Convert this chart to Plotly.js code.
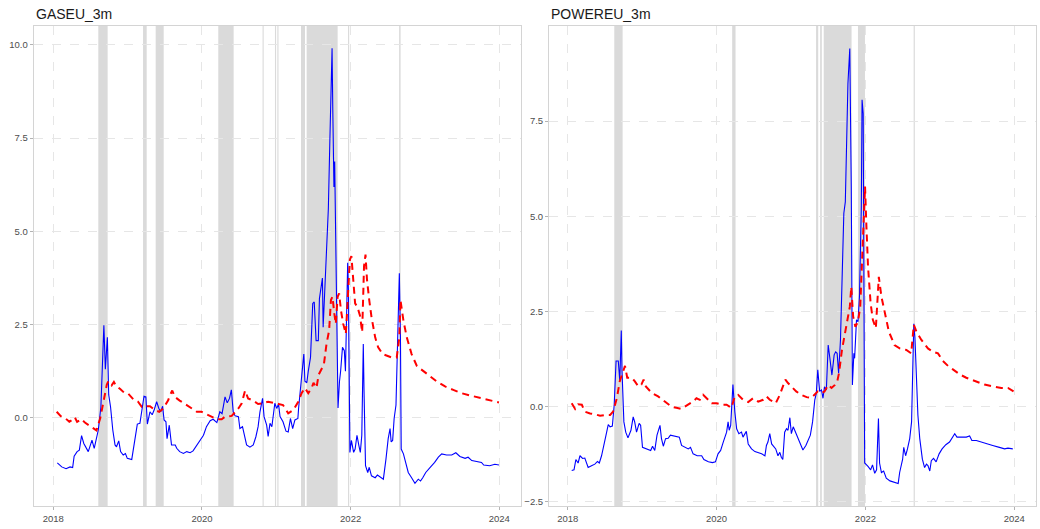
<!DOCTYPE html>
<html>
<head>
<meta charset="utf-8">
<script src="https://cdn.plot.ly/plotly-3.0.1.min.js"></script>
<style>
  html, body { margin: 0; padding: 0; background: #ffffff; }
  #chart { width: 1040px; height: 529px; }
</style>
</head>
<body>
<div id="chart"></div>
<script>
// Panel titles and axis ticks
const panelTitles = ['GASEU_3m', 'POWEREU_3m'];
const xTickVals = [2018, 2020, 2022, 2024];
const xTickText = ['2018', '2020', '2022', '2024'];
const gasYTicks = [0, 2.5, 5, 7.5, 10];
const powerYTicks = [-2.5, 0, 2.5, 5, 7.5];

// GASEU_3m: solid series (time in decimal years)
const gasSolidT = [2018.054, 2018.113, 2018.171, 2018.225, 2018.26, 2018.28, 2018.32, 2018.35, 2018.38, 2018.41,
  2018.47, 2018.52, 2018.55, 2018.57, 2018.605, 2018.64, 2018.66, 2018.68, 2018.70, 2018.727,
  2018.745, 2018.77, 2018.80, 2018.83, 2018.85, 2018.88, 2018.905, 2018.94, 2018.97, 2018.995,
  2019.055, 2019.10, 2019.13, 2019.165, 2019.19, 2019.22, 2019.245, 2019.265, 2019.30, 2019.33,
  2019.355, 2019.39, 2019.42, 2019.445, 2019.47, 2019.49, 2019.515, 2019.53, 2019.56, 2019.59,
  2019.64, 2019.66, 2019.70, 2019.75, 2019.795, 2019.84, 2019.88, 2019.93, 2019.97, 2020.02,
  2020.06, 2020.11, 2020.15, 2020.20, 2020.24, 2020.27, 2020.31, 2020.34, 2020.37, 2020.395,
  2020.42, 2020.445, 2020.49, 2020.51, 2020.545, 2020.58, 2020.60, 2020.645, 2020.69, 2020.725,
  2020.755, 2020.78, 2020.815, 2020.835, 2020.87, 2020.89, 2020.915, 2020.94, 2020.96, 2020.98,
  2021.005, 2021.03, 2021.05, 2021.09, 2021.13, 2021.16, 2021.19, 2021.22, 2021.25, 2021.29,
  2021.30, 2021.325, 2021.35, 2021.37, 2021.385, 2021.41, 2021.43, 2021.46, 2021.49, 2021.51,
  2021.535, 2021.565, 2021.58, 2021.60, 2021.62, 2021.63, 2021.655, 2021.68, 2021.70, 2021.72,
  2021.735, 2021.75, 2021.76, 2021.775, 2021.785, 2021.79, 2021.81, 2021.83, 2021.85, 2021.865,
  2021.89, 2021.915, 2021.93, 2021.945, 2021.96, 2021.97, 2021.99, 2022.01, 2022.04, 2022.06,
  2022.085, 2022.11, 2022.13, 2022.15, 2022.17, 2022.18, 2022.20, 2022.23, 2022.25, 2022.28,
  2022.33, 2022.36, 2022.39, 2022.44, 2022.475, 2022.505, 2022.53, 2022.545, 2022.565, 2022.585,
  2022.61, 2022.63, 2022.645, 2022.655, 2022.67, 2022.68, 2022.71, 2022.745, 2022.775, 2022.82,
  2022.865, 2022.91, 2022.94, 2022.97, 2023.01, 2023.07, 2023.13, 2023.18, 2023.225, 2023.29,
  2023.36, 2023.415, 2023.47, 2023.54, 2023.58, 2023.63, 2023.69, 2023.76, 2023.79, 2023.87,
  2023.94, 2023.995];
const gasSolidV = [-1.22, -1.33, -1.38, -1.33, -1.35, -1.04, -0.92, -0.88, -0.49, -0.70,
  -0.92, -0.61, -0.83, -0.66, -0.34, 0.28, 1.36, 2.47, 1.29, 2.15,
  0.61, 0.28, -0.34, -0.74, -0.79, -0.63, -0.92, -1.01, -0.97, -1.10,
  -1.13, -0.52, -0.18, -0.16, 0.19, 0.57, 0.55, -0.18, 0.15, 0.07,
  0.19, 0.42, 0.24, 0.15, 0.30, -0.07, -0.12, -0.57, -0.21, -0.74,
  -0.74, -0.83, -0.92, -0.97, -0.92, -0.95, -0.90, -0.74, -0.61, -0.48,
  -0.25, -0.09, -0.05, -0.14, 0.15, 0.10, 0.55, 0.39, 0.51, 0.74,
  0.15, 0.04, 0.02, -0.30, -0.25, -0.52, -0.74, -0.80, -0.74, -0.52,
  -0.25, 0.15, 0.51, 0.02, -0.21, -0.51, -0.16, -0.25, 0.10, 0.38,
  0.24, 0.36, 0.02, -0.12, -0.37, -0.39, -0.03, -0.30, -0.07, -0.03,
  0.25, 0.79, 1.15, 1.70, 0.97, 0.93, 1.24, 1.61, 3.06, 3.10,
  2.06, 2.06, 3.19, 3.47, 3.74, 2.42, 3.51, 4.42, 5.60, 7.41,
  9.14, 9.91, 8.23, 6.19, 6.87, 6.19, 3.06, 0.25, 0.97, 1.24,
  1.88, 1.79, 1.24, 3.06, 4.15, 3.42, -0.94, -0.62, -0.94, -0.85,
  -0.48, -0.75, -0.94, -0.48, 1.97, 0.70, -1.30, -1.48, -1.34, -1.57,
  -1.62, -1.55, -1.59, -1.66, -1.12, -0.57, -0.30, -0.66, -0.62, -0.03,
  0.33, 1.70, 2.74, 3.87, 2.15, -0.85, -0.98, -1.25, -1.48, -1.62,
  -1.77, -1.66, -1.71, -1.62, -1.48, -1.34, -1.21, -1.07, -0.98, -1.01,
  -1.01, -0.95, -1.05, -1.10, -1.07, -1.16, -1.19, -1.21, -1.28, -1.30,
  -1.26, -1.28];

// GASEU_3m: dashed series
const gasDashT = [2018.045, 2018.10, 2018.16, 2018.215, 2018.27, 2018.29, 2018.32, 2018.38, 2018.425, 2018.49,
  2018.56, 2018.58, 2018.63, 2018.67, 2018.72, 2018.74, 2018.785, 2018.815, 2018.84, 2018.90,
  2018.96, 2019.01, 2019.075, 2019.14, 2019.19, 2019.245, 2019.30, 2019.37, 2019.425, 2019.48,
  2019.545, 2019.57, 2019.60, 2019.635, 2019.70, 2019.795, 2019.86, 2019.93, 2019.995, 2020.06,
  2020.13, 2020.20, 2020.265, 2020.31, 2020.40, 2020.42, 2020.49, 2020.535, 2020.58, 2020.62,
  2020.69, 2020.755, 2020.825, 2020.89, 2020.96, 2021.03, 2021.09, 2021.16, 2021.23, 2021.295,
  2021.34, 2021.385, 2021.43, 2021.475, 2021.50, 2021.54, 2021.57, 2021.61, 2021.64, 2021.675,
  2021.71, 2021.735, 2021.755, 2021.78, 2021.80, 2021.825, 2021.845, 2021.87, 2021.90, 2021.935,
  2021.97, 2021.99, 2022.01, 2022.04, 2022.06, 2022.09, 2022.125, 2022.155, 2022.17, 2022.18,
  2022.20, 2022.22, 2022.25, 2022.28, 2022.33, 2022.37, 2022.43, 2022.485, 2022.55, 2022.62,
  2022.655, 2022.67, 2022.71, 2022.755, 2022.82, 2022.89, 2022.975, 2023.065, 2023.155, 2023.27,
  2023.38, 2023.49, 2023.605, 2023.74, 2023.87, 2023.995];
const gasDashV = [0.15, 0.03, -0.02, -0.12, -0.05, 0.00, -0.12, -0.05, -0.14, -0.23,
  -0.32, -0.35, -0.03, 0.42, 0.88, 0.97, 0.86, 0.95, 0.86, 0.76,
  0.65, 0.63, 0.49, 0.42, 0.28, 0.30, 0.30, 0.19, 0.15, 0.24,
  0.46, 0.60, 0.72, 0.55, 0.45, 0.33, 0.24, 0.15, 0.15, 0.08,
  0.02, -0.05, -0.05, 0.02, 0.04, 0.08, 0.24, 0.38, 0.72, 0.51,
  0.45, 0.36, 0.38, 0.42, 0.38, 0.36, 0.33, 0.11, 0.20, 0.42,
  0.65, 0.79, 0.65, 0.79, 0.93, 0.79, 1.15, 1.29, 1.42, 1.97,
  2.33, 3.15, 3.24, 2.79, 2.51, 3.24, 3.33, 2.87, 2.51, 2.24,
  3.42, 4.24, 4.33, 3.60, 3.06, 2.97, 2.74, 2.29, 3.15, 4.06,
  4.37, 3.69, 3.15, 2.70, 2.15, 1.88, 1.70, 1.65, 1.61, 1.61,
  2.15, 3.15, 2.60, 2.15, 1.70, 1.38, 1.24, 1.11, 0.97, 0.83,
  0.74, 0.65, 0.59, 0.53, 0.47, 0.40];

// POWEREU_3m: solid series
const powerSolidT = [2018.054, 2018.085, 2018.11, 2018.14, 2018.165, 2018.20, 2018.23, 2018.275, 2018.32, 2018.365,
  2018.40, 2018.425, 2018.455, 2018.49, 2018.515, 2018.545, 2018.57, 2018.60, 2018.625, 2018.65,
  2018.68, 2018.70, 2018.72, 2018.73, 2018.755, 2018.78, 2018.81, 2018.85, 2018.88, 2018.90,
  2018.925, 2018.96, 2018.98, 2019.005, 2019.06, 2019.115, 2019.14, 2019.17, 2019.20, 2019.24,
  2019.26, 2019.285, 2019.315, 2019.35, 2019.38, 2019.44, 2019.50, 2019.53, 2019.575, 2019.62,
  2019.65, 2019.685, 2019.74, 2019.80, 2019.83, 2019.89, 2019.945, 2019.985, 2020.02, 2020.055,
  2020.09, 2020.135, 2020.155, 2020.17, 2020.19, 2020.205, 2020.22, 2020.245, 2020.27, 2020.30,
  2020.335, 2020.355, 2020.40, 2020.425, 2020.47, 2020.515, 2020.56, 2020.605, 2020.65, 2020.67,
  2020.69, 2020.715, 2020.74, 2020.76, 2020.795, 2020.825, 2020.85, 2020.87, 2020.89, 2020.915,
  2020.94, 2020.96, 2020.985, 2021.005, 2021.03, 2021.05, 2021.075, 2021.12, 2021.16, 2021.20,
  2021.23, 2021.26, 2021.29, 2021.32, 2021.34, 2021.36, 2021.385, 2021.41, 2021.43, 2021.45,
  2021.475, 2021.50, 2021.52, 2021.55, 2021.58, 2021.60, 2021.62, 2021.64, 2021.665, 2021.685,
  2021.71, 2021.73, 2021.75, 2021.765, 2021.79, 2021.81, 2021.825, 2021.845, 2021.855, 2021.88,
  2021.90, 2021.92, 2021.945, 2021.955, 2021.97, 2021.985, 2021.99, 2022.035, 2022.07, 2022.095,
  2022.125, 2022.15, 2022.175, 2022.19, 2022.215, 2022.245, 2022.28, 2022.33, 2022.395, 2022.44,
  2022.46, 2022.50, 2022.515, 2022.54, 2022.565, 2022.595, 2022.62, 2022.63, 2022.65, 2022.665,
  2022.685, 2022.705, 2022.73, 2022.765, 2022.795, 2022.82, 2022.84, 2022.865, 2022.885, 2022.915,
  2022.95, 2022.99, 2023.03, 2023.08, 2023.13, 2023.17, 2023.20, 2023.23, 2023.29, 2023.355,
  2023.40, 2023.43, 2023.49, 2023.555, 2023.62, 2023.71, 2023.80, 2023.87, 2023.915, 2023.98];
const powerSolidV = [-1.68, -1.66, -1.39, -1.48, -1.29, -1.36, -1.35, -1.60, -1.55, -1.51,
  -1.44, -1.48, -1.29, -1.02, -0.75, -0.47, -0.53, -0.51, 0.05, 1.20,
  1.20, 0.67, 2.00, 0.93, -0.40, -0.67, -0.82, -0.62, -0.27, -0.40,
  -0.67, -0.44, -0.49, -1.07, -1.11, -1.15, -1.04, -1.15, -0.75, -0.49,
  -0.84, -1.04, -0.84, -0.83, -0.75, -0.77, -0.80, -1.02, -1.07, -1.11,
  -1.07, -1.24, -1.29, -1.29, -1.39, -1.45, -1.47, -1.45, -1.24, -1.15,
  -0.93, -0.67, -0.40, -0.62, -0.49, 0.22, 0.58, -0.13, -0.58, -0.71,
  -0.67, -0.80, -0.65, -0.98, -1.11, -1.18, -1.20, -1.24, -1.29, -1.02,
  -0.93, -0.71, -0.98, -1.02, -1.11, -1.29, -1.20, -1.33, -1.39, -0.67,
  -0.58, -0.62, -0.29, -0.71, -0.53, -0.62, -0.75, -0.93, -1.14, -1.02,
  -0.89, -0.75, -0.40, 0.18, 0.35, 0.97, 0.40, 0.44, 0.22, 0.52,
  0.44, 1.62, 1.31, 0.83, 1.36, 1.44, 1.40, 0.88, 1.76, 3.50,
  5.08, 5.38, 7.53, 8.49, 9.41, 5.78, 0.57, 1.40, 1.27, 2.28,
  2.23, 2.89, 5.25, 8.06, 7.70, 1.58, -1.48, -1.57, -1.66, -1.53,
  -1.75, -1.66, -0.31, -1.48, -1.73, -1.69, -1.88, -1.95, -1.98, -2.02,
  -1.73, -1.38, -1.07, -1.29, -1.11, -0.84, -0.40, 0.49, 2.18, 1.82,
  0.67, -0.22, -0.84, -1.38, -1.60, -1.51, -1.55, -1.69, -1.42, -1.36,
  -1.45, -1.24, -1.11, -1.00, -0.93, -0.80, -0.71, -0.80, -0.80, -0.80,
  -0.77, -0.89, -0.89, -0.93, -0.98, -1.02, -1.07, -1.11, -1.09, -1.11];

// POWEREU_3m: dashed series
const powerDashT = [2018.054, 2018.10, 2018.14, 2018.19, 2018.23, 2018.30, 2018.365, 2018.435, 2018.50, 2018.57,
  2018.61, 2018.66, 2018.70, 2018.745, 2018.77, 2018.80, 2018.86, 2018.90, 2018.95, 2018.99,
  2019.02, 2019.05, 2019.13, 2019.215, 2019.305, 2019.395, 2019.46, 2019.53, 2019.575, 2019.62,
  2019.68, 2019.73, 2019.775, 2019.82, 2019.865, 2019.935, 2020.0, 2020.07, 2020.135, 2020.20,
  2020.245, 2020.29, 2020.355, 2020.425, 2020.49, 2020.56, 2020.625, 2020.67, 2020.715, 2020.795,
  2020.85, 2020.895, 2020.925, 2020.96, 2021.005, 2021.07, 2021.14, 2021.21, 2021.275, 2021.32,
  2021.36, 2021.41, 2021.45, 2021.50, 2021.545, 2021.59, 2021.62, 2021.645, 2021.665, 2021.685,
  2021.71, 2021.745, 2021.765, 2021.79, 2021.81, 2021.835, 2021.865, 2021.90, 2021.93, 2021.955,
  2021.975, 2021.995, 2022.01, 2022.035, 2022.07, 2022.10, 2022.14, 2022.16, 2022.18, 2022.215,
  2022.26, 2022.315, 2022.39, 2022.46, 2022.55, 2022.615, 2022.65, 2022.685, 2022.75, 2022.84,
  2022.91, 2022.975, 2023.04, 2023.11, 2023.175, 2023.265, 2023.355, 2023.465, 2023.60, 2023.71,
  2023.825, 2023.915, 2023.99];
const powerDashV = [0.09, -0.06, 0.06, 0.05, -0.13, -0.18, -0.20, -0.24, -0.22, -0.22,
  -0.13, 0.22, 0.67, 0.93, 1.07, 0.76, 0.76, 0.67, 0.53, 0.58,
  0.71, 0.53, 0.36, 0.27, 0.13, 0.00, -0.03, -0.06, 0.00, 0.05,
  0.13, 0.22, 0.18, 0.31, 0.22, 0.09, 0.09, 0.05, 0.05, -0.03,
  0.27, 0.31, 0.18, 0.12, 0.22, 0.13, 0.18, 0.27, 0.18, 0.09,
  0.31, 0.58, 0.71, 0.62, 0.53, 0.40, 0.31, 0.25, 0.23, 0.31,
  0.40, 0.35, 0.40, 0.57, 0.49, 0.57, 0.65, 0.88, 1.22, 1.49,
  1.76, 2.19, 2.37, 2.62, 3.15, 2.37, 2.10, 2.23, 2.62, 4.03,
  4.73, 5.78, 4.91, 3.68, 2.71, 2.28, 2.06, 2.89, 3.41, 2.89,
  2.46, 1.97, 1.62, 1.53, 1.49, 1.40, 2.15, 1.97, 1.76, 1.53,
  1.44, 1.40, 1.20, 1.07, 0.98, 0.85, 0.76, 0.67, 0.58, 0.53,
  0.49, 0.49, 0.40];

// Shaded periods (start, end) in decimal years
const gasShadeStart = [2018.605, 2019.207, 2019.377, 2020.219, 2020.815, 2020.982, 2021.014, 2021.332, 2021.408, 2021.965, 2022.652];
const gasShadeEnd   = [2018.731, 2019.256, 2019.485, 2020.426, 2020.830, 2020.997, 2021.029, 2021.386, 2021.825, 2021.980, 2022.672];
const powerShadeStart = [2018.626, 2020.210, 2021.337, 2021.392, 2021.440, 2021.900, 2022.648];
const powerShadeEnd   = [2018.738, 2020.255, 2021.366, 2021.414, 2021.814, 2021.994, 2022.664];

const FONT = 'Liberation Sans, Arial, Helvetica, sans-serif';
const W = 1040, H = 529;

function shadeShapes(starts, ends, xref, yref) {
  return starts.map((s, i) => ({
    type: 'rect', xref: xref, yref: yref + ' domain',
    x0: s, x1: ends[i], y0: 0, y1: 1,
    fillcolor: '#dadada', line: { width: 0 }, layer: 'below'
  }));
}

function solid(x, y, xa, ya) {
  return { x: x, y: y, xaxis: xa, yaxis: ya, type: 'scatter', mode: 'lines',
    line: { color: '#0000ff', width: 1.1 }, hoverinfo: 'skip', showlegend: false };
}
function dashed(x, y, xa, ya) {
  return { x: x, y: y, xaxis: xa, yaxis: ya, type: 'scatter', mode: 'lines',
    line: { color: '#ff0000', width: 2, dash: '7px,5px' }, hoverinfo: 'skip', showlegend: false };
}

const traces = [
  solid(gasSolidT, gasSolidV, 'x', 'y'),
  dashed(gasDashT, gasDashV, 'x', 'y'),
  solid(powerSolidT, powerSolidV, 'x2', 'y2'),
  dashed(powerDashT, powerDashV, 'x2', 'y2')
];

const gridCol = '#e6e6e6';
const borderCol = '#d4d4d4';
function xAxis(domain, range, anchor) {
  return {
    domain: domain, range: range, anchor: anchor, type: 'linear',
    tickvals: xTickVals, ticktext: xTickText,
    ticks: 'outside', ticklen: 3, tickcolor: '#b3b3b3', tickwidth: 1,
    tickfont: { family: FONT, size: 9.5, color: '#4d4d4d' },
    showgrid: true, gridcolor: gridCol, griddash: 'dash', gridwidth: 1,
    zeroline: false, showline: true, mirror: true, linecolor: borderCol, linewidth: 1.3
  };
}
function yAxis(domain, range, anchor, ticks) {
  return {
    domain: domain, range: range, anchor: anchor,
    tickvals: ticks, tickformat: '.1f',
    ticks: 'outside', ticklen: 3, tickcolor: '#b3b3b3', tickwidth: 1,
    tickfont: { family: FONT, size: 9.5, color: '#4d4d4d' },
    showgrid: true, gridcolor: gridCol, griddash: 'dash', gridwidth: 1,
    zeroline: false, showline: true, mirror: true, linecolor: borderCol, linewidth: 1.3
  };
}

const yDom = [(H - 506) / H, (H - 26) / H];
const layout = {
  width: W, height: H,
  margin: { l: 0, r: 0, t: 0, b: 0 },
  paper_bgcolor: '#ffffff', plot_bgcolor: '#ffffff',
  xaxis: xAxis([34 / W, 520.5 / W], [2017.74, 2024.285], 'y'),
  yaxis: yAxis(yDom, [-2.38, 10.51], 'x', gasYTicks),
  xaxis2: xAxis([549.3 / W, 1035.5 / W], [2017.753, 2024.285], 'y2'),
  yaxis2: yAxis(yDom, [-2.61, 10.0], 'x2', powerYTicks),
  shapes: shadeShapes(gasShadeStart, gasShadeEnd, 'x', 'y')
    .concat(shadeShapes(powerShadeStart, powerShadeEnd, 'x2', 'y2')),
  annotations: [
    { text: panelTitles[0], xref: 'paper', yref: 'paper', x: 34 / W, y: 1 - 4 / H,
      xanchor: 'left', yanchor: 'top', showarrow: false,
      font: { family: FONT, size: 14, color: '#1a1a1a' } },
    { text: panelTitles[1], xref: 'paper', yref: 'paper', x: 549.3 / W, y: 1 - 4 / H,
      xanchor: 'left', yanchor: 'top', showarrow: false,
      font: { family: FONT, size: 14, color: '#1a1a1a' } }
  ]
};

Plotly.newPlot('chart', traces, layout, { staticPlot: true, displayModeBar: false });
</script>
</body>
</html>
